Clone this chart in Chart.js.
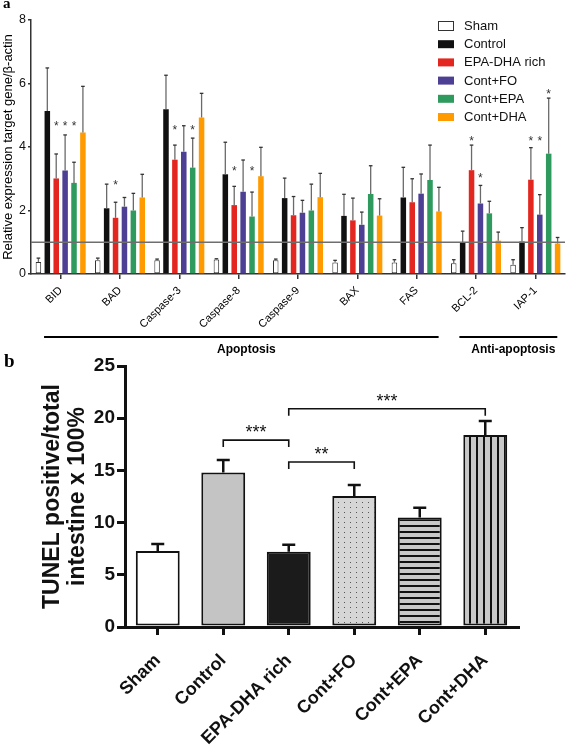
<!DOCTYPE html>
<html>
<head>
<meta charset="utf-8">
<script src="https://cdn.jsdelivr.net/npm/chart.js@4.4.0/dist/chart.umd.min.js"></script>
<style>
html, body { margin: 0; padding: 0; background: #fff; }
#wrap { position: relative; width: 567px; height: 748px; overflow: hidden; background: #fff; }
canvas { position: absolute; left: 0; }
#ca { top: 0; }
#cb { top: 345px; }
.lab { position: absolute; font-family: "Liberation Serif", serif; font-weight: bold; color: #000; }
</style>
</head>
<body>
<div id="wrap">
	<canvas id="ca" width="567" height="360" style="width:567px;height:360px"></canvas>
	<canvas id="cb" width="567" height="403" style="width:567px;height:403px"></canvas>
	<div class="lab" style="left:3px;top:-5px;font-size:15px">a</div>
	<div class="lab" style="left:4px;top:350px;font-size:19px">b</div>
</div>
<script>
const F = "'Liberation Sans', Arial, sans-serif"
Chart.defaults.font.family = F

// panel a: gene expression
const genes = ['BID', 'BAD', 'Caspase-3', 'Caspase-8', 'Caspase-9', 'BAX', 'FAS', 'BCL-2', 'IAP-1']
const groups = ['Sham', 'Control', 'EPA-DHA rich', 'Cont+FO', 'Cont+EPA', 'Cont+DHA']

const shamMean = [0.38, 0.43, 0.43, 0.46, 0.43, 0.36, 0.36, 0.34, 0.29]
const shamErr = [0.50, 0.50, 0.47, 0.48, 0.47, 0.43, 0.45, 0.45, 0.45]
const controlMean = [5.13, 2.07, 5.19, 3.14, 2.39, 1.83, 2.41, 1.00, 1.02]
const controlErr = [6.49, 2.83, 6.26, 4.15, 3.02, 2.51, 3.36, 1.35, 1.46]
const richMean = [3.01, 1.77, 3.60, 2.17, 1.85, 1.69, 2.26, 3.27, 2.97]
const richErr = [3.78, 2.26, 4.06, 2.76, 2.44, 2.39, 3.00, 4.06, 3.98]
const foMean = [3.26, 2.12, 3.85, 2.59, 1.93, 1.55, 2.53, 2.22, 1.87]
const foErr = [4.38, 2.41, 4.67, 3.59, 2.32, 1.95, 3.15, 2.79, 2.50]
const epaMean = [2.87, 2.00, 3.35, 1.81, 2.00, 2.52, 2.96, 1.91, 3.79]
const epaErr = [3.52, 2.54, 4.28, 2.58, 2.83, 3.41, 4.06, 2.29, 5.54]
const dhaMean = [4.46, 2.41, 4.93, 3.08, 2.42, 1.84, 1.97, 1.05, 0.96]
const dhaErr = [5.91, 3.14, 5.69, 3.99, 3.17, 2.37, 2.73, 1.32, 1.15]

// height of the significance star (y value), null = no star
const none = [null, null, null, null, null, null, null, null, null]
const richStar = [4.76, 2.89, 4.62, 3.33, null, null, null, 4.27, 4.27]
const foStar = [4.76, null, null, null, null, null, null, 3.12, 4.27]
const epaStar = [4.76, null, 4.62, 3.33, null, null, null, null, 5.77]

const yTicksA = [0, 2, 4, 6, 8]
const refLine = 1

const geneGroups = ['Apoptosis', 'Anti-apoptosis']
const groupFirst = [0, 7]
const groupLast = [6, 8]

// panel b: TUNEL
const tunelMean = [7.27, 14.8, 7.2, 12.55, 10.5, 18.38]
const tunelErr = [7.96, 16.0, 7.87, 13.6, 11.43, 19.72]
const yTicksB = [0, 5, 10, 15, 20, 25]

const bracketFrom = [1, 2, 2]
const bracketTo = [2, 3, 5]
const bracketLevel = [17.9, 15.8, 20.9]
const bracketText = ['***', '**', '***']

const seriesColors = ['#ffffff', '#111111', '#e3261f', '#4d3f94', '#2f9a5d', '#ff9a00']

const errPlugin = {
	id: 'errA',
	afterDatasetsDraw(chart) {
		const { ctx, chartArea, scales: { x, y } } = chart
		ctx.save()
		chart.data.datasets.forEach((ds, i) => {
			const meta = chart.getDatasetMeta(i)
			meta.data.forEach((bar, j) => {
				const top = y.getPixelForValue(ds.errTop[j])
				ctx.strokeStyle = '#6a6a6a'
				ctx.lineWidth = 1.3
				ctx.beginPath()
				ctx.moveTo(bar.x, bar.y)
				ctx.lineTo(bar.x, top)
				ctx.stroke()
				ctx.strokeStyle = '#333'
				ctx.beginPath()
				ctx.moveTo(bar.x - 1.8, top)
				ctx.lineTo(bar.x + 1.8, top)
				ctx.stroke()
				if (ds.stars[j] != null) {
					ctx.fillStyle = '#333'
					ctx.font = '12px ' + F
					ctx.textAlign = 'center'
					ctx.textBaseline = 'alphabetic'
					ctx.fillText('*', bar.x, y.getPixelForValue(ds.stars[j]) + 7)
				}
			})
		})
		// reference line at 1
		const ly = y.getPixelForValue(refLine)
		ctx.strokeStyle = '#6e6e6e'
		ctx.lineWidth = 1.6
		ctx.beginPath()
		ctx.moveTo(chartArea.left, ly)
		ctx.lineTo(chartArea.right, ly)
		ctx.stroke()

		// group lines under the gene names
		const cw = x.getPixelForValue(1) - x.getPixelForValue(0)
		const gy = chartArea.bottom + 63
		geneGroups.forEach((g, k) => {
			const x0 = x.getPixelForValue(groupFirst[k]) - 0.28 * cw
			const x1 = x.getPixelForValue(groupLast[k]) + 0.37 * cw
			ctx.strokeStyle = '#000'
			ctx.lineWidth = 2
			ctx.beginPath()
			ctx.moveTo(x0, gy)
			ctx.lineTo(x1, gy)
			ctx.stroke()
			ctx.fillStyle = '#000'
			ctx.font = 'bold 12px ' + F
			ctx.textAlign = 'center'
			ctx.textBaseline = 'alphabetic'
			ctx.fillText(g, (x0 + x1) / 2 + 5, gy + 16)
		})

		// legend
		ctx.font = '13px ' + F
		ctx.textAlign = 'left'
		ctx.textBaseline = 'middle'
		chart.data.datasets.forEach((ds, i) => {
			const ry = 26 + i * 18.2
			if (i === 0) {
				ctx.fillStyle = '#fff'
				ctx.fillRect(438, ry - 4.5, 16, 9)
				ctx.strokeStyle = '#333'
				ctx.lineWidth = 1
				ctx.strokeRect(438.5, ry - 4.5, 15, 9)
			} else {
				ctx.fillStyle = ds.backgroundColor
				ctx.fillRect(438, ry - 4, 16, 8)
			}
			ctx.fillStyle = '#111'
			ctx.fillText(ds.label, 464, ry + 0.5)
		})
		ctx.restore()
	},
}

const means = [shamMean, controlMean, richMean, foMean, epaMean, dhaMean]
const errs = [shamErr, controlErr, richErr, foErr, epaErr, dhaErr]
const stars = [none, none, richStar, foStar, epaStar, none]

const chartA = new Chart(document.getElementById('ca'), {
	type: 'bar',
	data: {
		labels: genes,
		datasets: groups.map((g, i) => ({
			label: g,
			data: means[i],
			errTop: errs[i],
			stars: stars[i],
			backgroundColor: seriesColors[i],
			borderColor: i === 0 ? '#333' : seriesColors[i],
			borderWidth: i === 0 ? 1 : 0,
			borderSkipped: false,
			categoryPercentage: 0.9,
			barPercentage: 0.62,
		})),
	},
	options: {
		responsive: false,
		animation: false,
		layout: { padding: { top: 20, right: 2, left: 0, bottom: 0 } },
		plugins: { legend: { display: false }, tooltip: { enabled: false } },
		scales: {
			x: {
				grid: { drawOnChartArea: false, offset: false, tickLength: 5, color: '#333', lineWidth: 1.5 },
				border: { color: '#333', width: 1.5 },
				ticks: { autoSkip: false, minRotation: 45, maxRotation: 45, padding: 5, color: '#000', font: { size: 11 } },
				afterFit(s) { s.height = 86 },
			},
			y: {
				min: 0,
				max: 8,
				afterBuildTicks(s) { s.ticks = yTicksA.map(v => ({ value: v })) },
				ticks: { padding: 2, color: '#111', font: { size: 12.5 } },
				grid: { drawOnChartArea: false, tickLength: 3, color: '#333', lineWidth: 1.5 },
				border: { color: '#333', width: 1.5 },
				title: {
					display: true,
					text: 'Relative expression target gene/\u03b2-actin',
					color: '#000',
					font: { size: 13, lineHeight: 1.1 },
					padding: { top: 1, bottom: 0 },
				},
				afterFit(s) { s.width = 31 },
			},
		},
	},
	plugins: [errPlugin],
})

// patterns for panel b
function makePattern(w, h, bg, draw) {
	const c = document.createElement('canvas')
	c.width = w
	c.height = h
	const g = c.getContext('2d')
	g.fillStyle = bg
	g.fillRect(0, 0, w, h)
	draw(g)
	return document.getElementById('cb').getContext('2d').createPattern(c, 'repeat')
}
const dotFill = makePattern(6, 5, '#d6d6d6', g => {
	g.fillStyle = '#555'
	g.fillRect(2, 2, 1, 1)
})
const hStripe = makePattern(6, 6, '#c8c8c8', g => {
	g.fillStyle = '#111'
	g.fillRect(0, 0, 6, 2)
})
const vStripe = makePattern(7, 6, '#c8c8c8', g => {
	g.fillStyle = '#111'
	g.fillRect(0, 0, 2, 6)
})
const tunelFill = ['#ffffff', '#c4c4c4', '#1b1b1b', dotFill, hStripe, vStripe]

const tunelPlugin = {
	id: 'errB',
	afterDatasetsDraw(chart) {
		const { ctx, scales: { x, y } } = chart
		const ds = chart.data.datasets[0]
		const meta = chart.getDatasetMeta(0)
		ctx.save()
		ctx.strokeStyle = '#111'
		ctx.lineWidth = 2.5
		meta.data.forEach((bar, j) => {
			const top = y.getPixelForValue(ds.errTop[j])
			ctx.beginPath()
			ctx.moveTo(bar.x, bar.y)
			ctx.lineTo(bar.x, top)
			ctx.moveTo(bar.x - 6.5, top)
			ctx.lineTo(bar.x + 6.5, top)
			ctx.stroke()
		})
		// significance brackets
		ctx.lineWidth = 1.6
		ctx.fillStyle = '#111'
		ctx.font = '18px ' + F
		ctx.textAlign = 'center'
		ctx.textBaseline = 'alphabetic'
		bracketText.forEach((t, k) => {
			const x0 = x.getPixelForValue(bracketFrom[k])
			const x1 = x.getPixelForValue(bracketTo[k])
			const by = y.getPixelForValue(bracketLevel[k])
			ctx.beginPath()
			ctx.moveTo(x0, by + 7)
			ctx.lineTo(x0, by)
			ctx.lineTo(x1, by)
			ctx.lineTo(x1, by + 7)
			ctx.stroke()
			ctx.fillText(t, (x0 + x1) / 2, by - 2)
		})
		ctx.restore()
	},
}

const chartB = new Chart(document.getElementById('cb'), {
	type: 'bar',
	data: {
		labels: groups,
		datasets: [{
			data: tunelMean,
			errTop: tunelErr,
			backgroundColor: tunelFill,
			borderColor: '#111',
			borderWidth: 2,
			borderSkipped: false,
			categoryPercentage: 1,
			barPercentage: 0.67,
		}],
	},
	options: {
		responsive: false,
		animation: false,
		layout: { padding: { top: 21, right: 49, left: 0, bottom: 0 } },
		plugins: { legend: { display: false }, tooltip: { enabled: false } },
		scales: {
			x: {
				grid: { drawOnChartArea: false, offset: false, tickLength: 8, color: '#111', lineWidth: 3 },
				border: { color: '#111', width: 3 },
				ticks: { autoSkip: false, minRotation: 45, maxRotation: 45, padding: 15, color: '#111', font: { size: 18, weight: 'bold' } },
				afterFit(s) { s.height = 121 },
			},
			y: {
				min: 0,
				max: 25,
				afterBuildTicks(s) { s.ticks = yTicksB.map(v => ({ value: v })) },
				ticks: { padding: 2, color: '#111', font: { size: 19, weight: 'bold' } },
				grid: { drawOnChartArea: false, tickLength: 8, color: '#111', lineWidth: 3 },
				border: { color: '#111', width: 3 },
				title: {
					display: true,
					text: ['TUNEL positive/total', 'intestine x 100%'],
					color: '#111',
					font: { size: 23, weight: 'bold', lineHeight: 1.1 },
					padding: { top: 40, bottom: 0 },
				},
				afterFit(s) { s.width = 125 },
			},
		},
	},
	plugins: [tunelPlugin],
})
</script>
</body>
</html>
